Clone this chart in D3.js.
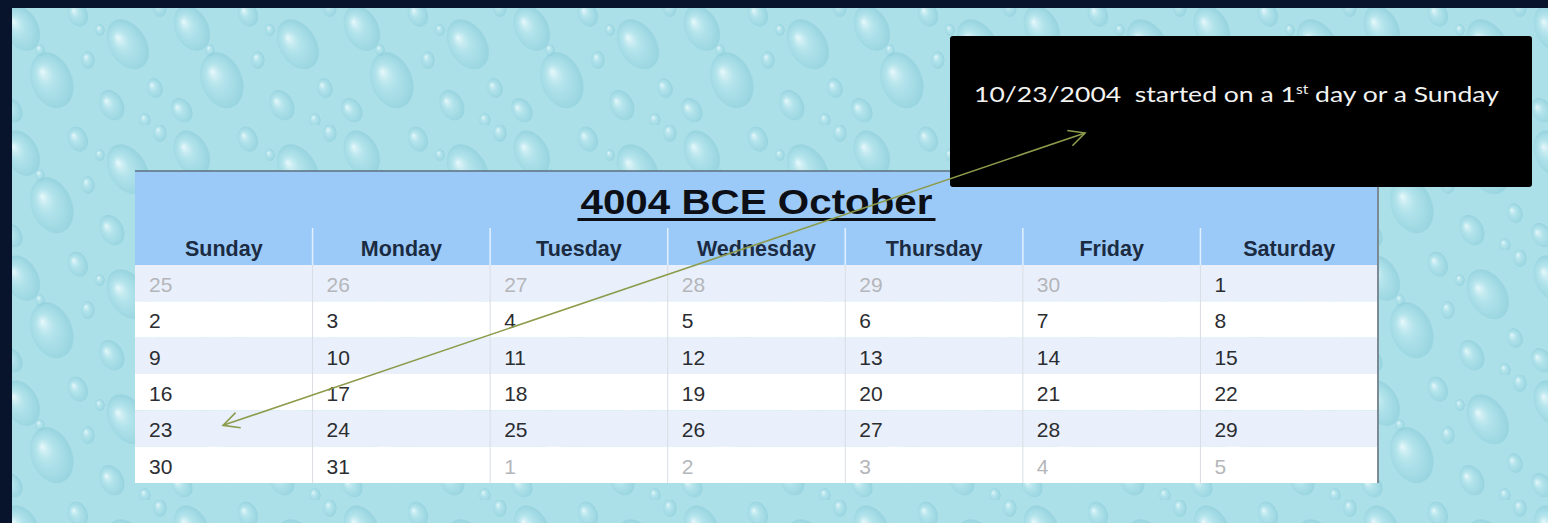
<!DOCTYPE html>
<html>
<head>
<meta charset="utf-8">
<script src="https://cdn.jsdelivr.net/npm/d3@7"></script>
<style>
  html, body { margin: 0; padding: 0; overflow: hidden; background: #08142c; }
  svg { display: block; }
</style>
</head>
<body>
<svg id="chart"></svg>
<script>
// calendar content
var monthTitle = "4004 BCE October";
var weekdays = ["Sunday", "Monday", "Tuesday", "Wednesday", "Thursday", "Friday", "Saturday"];
var dayNumbers = [
  [25, 26, 27, 28, 29, 30, 1],
  [2, 3, 4, 5, 6, 7, 8],
  [9, 10, 11, 12, 13, 14, 15],
  [16, 17, 18, 19, 20, 21, 22],
  [23, 24, 25, 26, 27, 28, 29],
  [30, 31, 1, 2, 3, 4, 5]
];
// 1 = day of the previous / next month (greyed out)
var otherMonth = [
  [1, 1, 1, 1, 1, 1, 0],
  [0, 0, 0, 0, 0, 0, 0],
  [0, 0, 0, 0, 0, 0, 0],
  [0, 0, 0, 0, 0, 0, 0],
  [0, 0, 0, 0, 0, 0, 0],
  [0, 0, 1, 1, 1, 1, 1]
];
// the note and which cell its arrow points at
var notePre = "10/23/2004\u00a0\u00a0started on a 1";
var noteSup = "st";
var notePost = " day or a Sunday";
var arrowTarget = { row: 4, day: "Sunday" };

var W = 1548, H = 523;
var svg = d3.select("#chart").attr("width", W).attr("height", H);
var defs = svg.append("defs");

// ---- background: dark frame + water drop texture
var g1 = defs.append("radialGradient").attr("id", "drop")
  .attr("cx", "45%").attr("cy", "55%").attr("r", "60%").attr("fx", "35%").attr("fy", "30%");
g1.append("stop").attr("offset", "0%").attr("stop-color", "#f2fdfe").attr("stop-opacity", 0.85);
g1.append("stop").attr("offset", "40%").attr("stop-color", "#b4e4ec").attr("stop-opacity", 0.4);
g1.append("stop").attr("offset", "85%").attr("stop-color", "#7fc6d4").attr("stop-opacity", 0.45);
g1.append("stop").attr("offset", "100%").attr("stop-color", "#dff6f9").attr("stop-opacity", 0.6);

var tile = defs.append("pattern").attr("id", "water")
  .attr("patternUnits", "userSpaceOnUse").attr("width", 170).attr("height", 125);
tile.append("rect").attr("width", 170).attr("height", 125).attr("fill", "#ace0e9");
// a handful of drops per tile
var drops = [[22, 28, 17, 24, -25], [78, 14, 10, 13, -20], [128, 44, 19, 27, -30],
             [52, 80, 21, 29, -20], [112, 105, 12, 16, -25], [155, 88, 8, 10, -15],
             [12, 110, 10, 13, -30], [88, 60, 7, 9, 0], [160, 8, 7, 9, 0],
             [40, 50, 5, 6, 0], [100, 30, 5, 6, 0], [145, 120, 6, 7, 0]];
tile.selectAll("ellipse").data(drops).enter().append("ellipse")
  .attr("cx", d => d[0]).attr("cy", d => d[1]).attr("rx", d => d[2]).attr("ry", d => d[3])
  .attr("transform", d => "rotate(" + d[4] + "," + d[0] + "," + d[1] + ")")
  .attr("fill", "url(#drop)");

svg.append("rect").attr("width", W).attr("height", H).attr("fill", "#08142c");
svg.append("rect").attr("x", 12).attr("y", 8).attr("width", W - 12).attr("height", H - 8)
  .attr("fill", "url(#water)");

// ---- calendar table
var calLeft = 135, calRight = 1378, calTop = 171;
var headTop = 228, bodyTop = 265, calBottom = 483;

var x = d3.scaleBand().domain(weekdays).range([calLeft, calRight]);
var y = d3.scaleBand().domain(d3.range(dayNumbers.length)).range([bodyTop, calBottom]);

var cal = svg.append("g");
cal.append("rect").attr("x", calLeft).attr("y", calTop).attr("width", calRight - calLeft)
  .attr("height", bodyTop - calTop).attr("fill", "#9ccaf8");

// title
var mid = (calLeft + calRight) / 2;
cal.append("text")
  .attr("x", mid).attr("y", 214)
  .attr("text-anchor", "middle")
  .attr("textLength", 352).attr("lengthAdjust", "spacingAndGlyphs")
  .style("font-family", "'Liberation Sans', Arial, sans-serif")
  .style("font-weight", "bold").style("font-size", "35px").style("fill", "#0c0f16")
  .text(monthTitle);
cal.append("rect").attr("x", mid - 179).attr("y", 218)
  .attr("width", 358).attr("height", 3).attr("fill", "#0c0f16");

// weekday header
cal.selectAll(".hsep").data(weekdays.slice(1)).enter().append("line")
  .attr("x1", d => x(d)).attr("x2", d => x(d))
  .attr("y1", headTop).attr("y2", bodyTop)
  .attr("stroke", "#e2f0fd").attr("stroke-width", 1.5);
cal.selectAll(".wday").data(weekdays).enter().append("text")
  .attr("x", d => x(d) + x.bandwidth() / 2).attr("y", 256)
  .attr("text-anchor", "middle")
  .style("font-family", "'Liberation Sans', Arial, sans-serif")
  .style("font-weight", "bold").style("font-size", "21.5px").style("fill", "#1b2b42")
  .text(d => d);

// body rows
cal.selectAll(".row").data(dayNumbers).enter().append("rect")
  .attr("x", calLeft).attr("y", (d, i) => y(i))
  .attr("width", calRight - calLeft).attr("height", y.bandwidth())
  .attr("fill", (d, i) => i % 2 === 0 ? "#eaf0fb" : "#ffffff");
cal.selectAll(".vsep").data(weekdays.slice(1)).enter().append("line")
  .attr("x1", d => x(d)).attr("x2", d => x(d))
  .attr("y1", bodyTop).attr("y2", calBottom)
  .attr("stroke", "#d9dde3").attr("stroke-width", 1);

var cells = [];
dayNumbers.forEach(function(row, r) {
  row.forEach(function(v, c) {
    cells.push({ r: r, day: weekdays[c], v: v, other: otherMonth[r][c] });
  });
});
cal.selectAll(".num").data(cells).enter().append("text")
  .attr("x", d => x(d.day) + 14).attr("y", d => y(d.r) + 27)
  .style("font-family", "'Liberation Sans', Arial, sans-serif")
  .style("font-size", "21px")
  .style("fill", d => d.other ? "#b4b6ba" : "#2b2d31")
  .text(d => d.v);

// table edges
cal.append("line").attr("x1", calLeft).attr("x2", calRight).attr("y1", calTop).attr("y2", calTop)
  .attr("stroke", "#5d6f7d").attr("stroke-width", 1.5);
cal.append("line").attr("x1", calRight).attr("x2", calRight).attr("y1", calTop).attr("y2", calBottom)
  .attr("stroke", "#7c8a96").attr("stroke-width", 2);

// ---- note box
var box = { x: 950, y: 36, w: 582, h: 151 };
svg.append("rect").attr("x", box.x).attr("y", box.y).attr("width", box.w).attr("height", box.h)
  .attr("rx", 3).attr("fill", "#000");
var noteX = box.x + 24;
var note = svg.append("text").attr("x", noteX).attr("y", box.y + 66)
  .style("font-family", "Lato, 'Open Sans', sans-serif")
  .style("font-size", "22px").style("fill", "#f2f2f0");
note.append("tspan").text(notePre);
note.append("tspan").attr("dy", -8).style("font-size", "13px").text(noteSup);
note.append("tspan").attr("dy", 8).text(notePost);
// stretch the line to the width it has in the picture
var nw = note.node().getBBox().width;
var sx = 526 / nw;
note.attr("transform", "translate(" + noteX + ",0) scale(" + sx + ",1) translate(" + (-noteX) + ",0)");

// ---- arrow, double headed
var arrowColor = "#8c9c4c";
defs.append("marker").attr("id", "chev").attr("viewBox", "0 0 20 20")
  .attr("refX", 18).attr("refY", 10).attr("markerWidth", 20).attr("markerHeight", 20)
  .attr("markerUnits", "userSpaceOnUse").attr("orient", "auto-start-reverse")
  .append("path").attr("d", "M2,2 L18,10 L2,18")
  .attr("fill", "none").attr("stroke", arrowColor).attr("stroke-width", 1.6);

var p0 = [x(arrowTarget.day) + 88, y(arrowTarget.row) + 15];
var p1 = [box.x + 135, box.y + 97];
svg.append("line")
  .attr("x1", p0[0]).attr("y1", p0[1]).attr("x2", p1[0]).attr("y2", p1[1])
  .attr("stroke", arrowColor).attr("stroke-width", 1.6)
  .attr("marker-start", "url(#chev)").attr("marker-end", "url(#chev)");
</script>
</body>
</html>
